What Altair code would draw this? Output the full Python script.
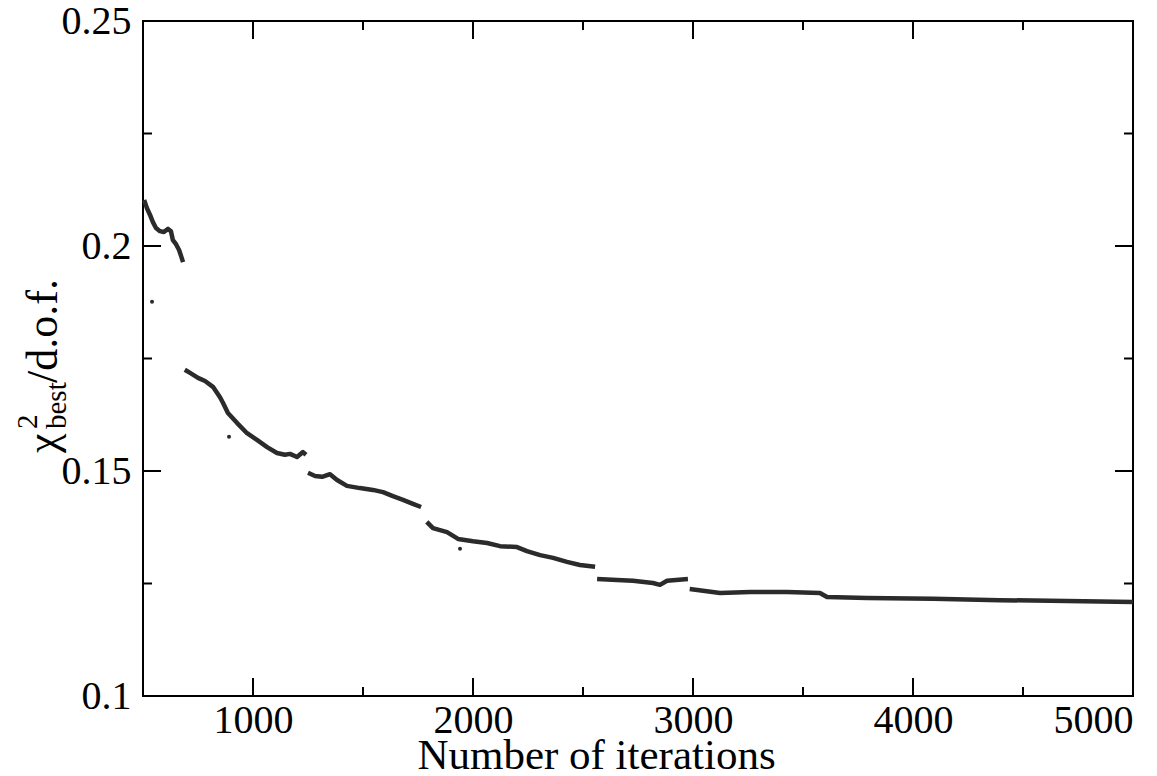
import altair as alt
import pandas as pd

# ---- data (iterations, chi2_best/d.o.f.) ----
seg_a_x = [505, 518, 532, 545, 559, 577, 595, 614, 627, 636, 650, 664, 673, 682]
seg_a_y = [0.2102, 0.2084, 0.2069, 0.2053, 0.2040, 0.2033, 0.2031, 0.2038, 0.2033, 0.2013, 0.2004, 0.1991, 0.1978, 0.1964]

seg_b_x = [690, 714, 750, 782, 818, 850, 864, 886, 927, 973, 1018, 1064, 1109, 1145, 1168, 1200, 1227, 1241]
seg_b_y = [0.1725, 0.1718, 0.1707, 0.1700, 0.1687, 0.1664, 0.1651, 0.1629, 0.1607, 0.1584, 0.1569, 0.1553, 0.1540, 0.1536, 0.1538, 0.1531, 0.1542, 0.1536]

seg_c_x = [1250, 1282, 1314, 1350, 1382, 1427, 1486, 1545, 1591, 1636, 1682, 1727, 1764]
seg_c_y = [0.1496, 0.1489, 0.1487, 0.1493, 0.1480, 0.1467, 0.1462, 0.1458, 0.1453, 0.1444, 0.1436, 0.1427, 0.1420]

seg_d_x = [1790, 1818, 1882, 1932, 2000, 2064, 2123, 2200, 2245, 2305, 2364, 2427, 2486, 2555]
seg_d_y = [0.1387, 0.1373, 0.1364, 0.1349, 0.1344, 0.1340, 0.1333, 0.1331, 0.1322, 0.1313, 0.1307, 0.1298, 0.1291, 0.1287]

seg_e_x = [2564, 2655, 2727, 2818, 2850, 2882, 2977]
seg_e_y = [0.1260, 0.1258, 0.1256, 0.1251, 0.1247, 0.1256, 0.1260]

seg_f_x = [2985, 3123, 3259, 3427, 3577, 3609, 3791, 4091, 4395, 4700, 5000]
seg_f_y = [0.1238, 0.1229, 0.1231, 0.1231, 0.1229, 0.1220, 0.1218, 0.1216, 0.1213, 0.1211, 0.1209]

outlier_x = [541, 891, 1941]
outlier_y = [0.1876, 0.1576, 0.1327]

x_major = [1000, 2000, 3000, 4000, 5000]
x_minor = [500, 1500, 2500, 3500, 4500]
y_major = [0.1, 0.15, 0.2, 0.25]
y_minor = [0.125, 0.175, 0.225]

# ---- build tables ----
rows = []
for name, xs, ys in [("a", seg_a_x, seg_a_y), ("b", seg_b_x, seg_b_y), ("c", seg_c_x, seg_c_y),
                     ("d", seg_d_x, seg_d_y), ("e", seg_e_x, seg_e_y), ("f", seg_f_x, seg_f_y)]:
    for xv, yv in zip(xs, ys):
        rows.append({"seg": name, "it": xv, "chi": yv})
df = pd.DataFrame(rows)
out_df = pd.DataFrame({"it": outlier_x, "chi": outlier_y})

W, H = 990, 675
FONT = "Liberation Serif"
xscale = alt.Scale(domain=[500, 5000], nice=False, zero=False)
yscale = alt.Scale(domain=[0.1, 0.25], nice=False, zero=False)

xaxis = alt.Axis(values=x_major, ticks=False, domain=False, grid=False, format="d",
                 labelFont=FONT, labelFontSize=40, labelColor="black", labelPadding=4,
                 title="Number of iterations", titleFont=FONT, titleFontSize=43,
                 titleFontWeight="normal", titleColor="black", titlePadding=-6,
                 titleX=453, titleAlign="center")
yaxis = alt.Axis(values=y_major, ticks=False, domain=False, grid=False,
                 labelFont=FONT, labelFontSize=40, labelColor="black", labelPadding=12,
                 labelExpr="datum.value == 0.1 ? '0.1' : datum.value == 0.2 ? '0.2' : datum.label",
                 title="")

ink = "#2b2b2b"

lines = alt.Chart(df).mark_line(color=ink, strokeWidth=4.5, strokeJoin="round").encode(
    x=alt.X("it:Q", scale=xscale, axis=xaxis),
    y=alt.Y("chi:Q", scale=yscale, axis=yaxis),
    detail="seg:N",
)

pts = alt.Chart(out_df).mark_circle(color=ink, size=16, opacity=1).encode(
    x=alt.X("it:Q", scale=xscale, axis=xaxis),
    y=alt.Y("chi:Q", scale=yscale, axis=yaxis),
)

def xticks(vals, length):
    d = pd.DataFrame({"it": vals})
    b = alt.Chart(d).mark_rule(color="black", strokeWidth=2).encode(
        x=alt.X("it:Q", scale=xscale, axis=xaxis), y=alt.value(H), y2=alt.value(H - length))
    t = alt.Chart(d).mark_rule(color="black", strokeWidth=2).encode(
        x=alt.X("it:Q", scale=xscale, axis=xaxis), y=alt.value(0), y2=alt.value(length))
    return [b, t]

def yticks(vals, length):
    d = pd.DataFrame({"chi": vals})
    l = alt.Chart(d).mark_rule(color="black", strokeWidth=2).encode(
        y=alt.Y("chi:Q", scale=yscale, axis=yaxis), x=alt.value(0), x2=alt.value(length))
    r = alt.Chart(d).mark_rule(color="black", strokeWidth=2).encode(
        y=alt.Y("chi:Q", scale=yscale, axis=yaxis), x=alt.value(W), x2=alt.value(W - length))
    return [l, r]

tick_layers = xticks(x_major, 18) + xticks(x_minor, 9) + yticks(y_major, 18) + yticks(y_minor, 9)

# ---- y-axis title: chi^2_best / d.o.f. built from pieces ----
def ytext(txt, xpos, ypos, size):
    return alt.Chart(alt.Data(values=[{"t": txt}])).mark_text(
        font=FONT, fontSize=size, angle=270, align="left", baseline="alphabetic", color="black"
    ).encode(text="t:N", x=alt.value(xpos), y=alt.value(ypos))

base_x = -86
title_layers = [
    ytext("χ", base_x, 432, 44),
    ytext("2", base_x - 20, 408, 29),
    ytext("best", base_x + 9, 408, 29),
    ytext("/d.o.f.", base_x, 362, 44),
]

chart = alt.layer(lines, pts, *tick_layers, *title_layers).properties(
    width=W, height=H,
    autosize=alt.AutoSizeParams(type="none"),
    padding={"left": 143, "top": 21, "right": 24, "bottom": 80},
    background="white",
).configure_view(stroke="black", strokeWidth=2)

chart.save("out.html", embed_options={"renderer": "svg", "actions": False})
